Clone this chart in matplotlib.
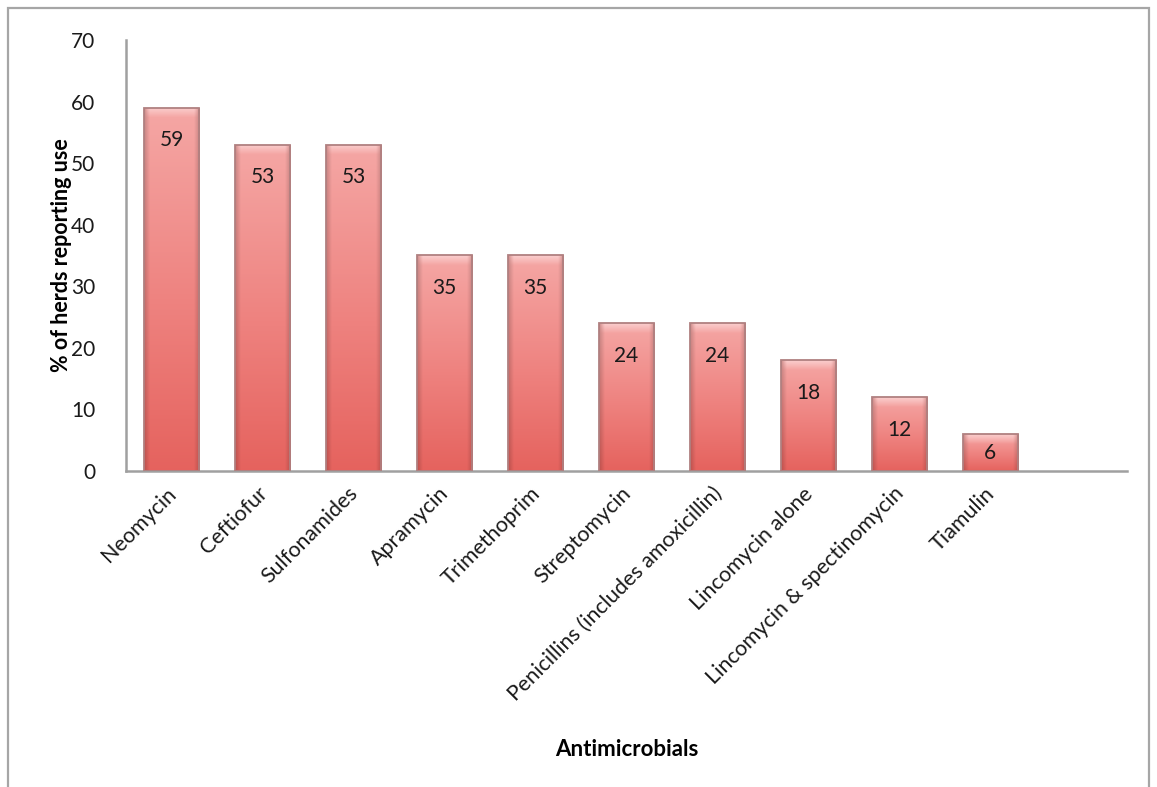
import numpy as np
import matplotlib.pyplot as plt
import matplotlib.transforms as mtransforms
from matplotlib.patches import Rectangle
from matplotlib.colors import LinearSegmentedColormap

plt.rcParams['font.family'] = ['Lato', 'DejaVu Sans']

drugs = ["Neomycin", "Ceftiofur", "Sulfonamides", "Apramycin", "Trimethoprim",
         "Streptomycin", "Penicillins (includes amoxicillin)", "Lincomycin alone",
         "Lincomycin & spectinomycin", "Tiamulin"]
pct_herds = [59, 53, 53, 35, 35, 24, 24, 18, 12, 6]
y_ticks = [0, 10, 20, 30, 40, 50, 60, 70]

fig = plt.figure(figsize=(11.57, 7.87), dpi=100)
ax = fig.add_axes([0.1089, 0.4015, 0.8651, 0.5477])

# outer chart frame
fig.patches.append(Rectangle((8 / 1157, -0.05), 1141 / 1157, 1.05 - 8 / 787,
                             transform=fig.transFigure, fill=False,
                             edgecolor='#a6a6a6', lw=1.6))

x = np.arange(len(drugs))
width = 0.61
bars = ax.bar(x, pct_herds, width, color='none', edgecolor='#b08080', lw=1.3, zorder=3)

# each bar: deeper red at the bottom, pale pink towards its top
cmap = LinearSegmentedColormap.from_list('bar', ['#e35b56', '#ee817e', '#f5a7a5'])
nx, ny = 60, 300
hx = np.linspace(0, 1, nx)
edge = np.clip(1 - np.minimum(hx, 1 - hx) / 0.1, 0, 1)  # 1 at the sides
for b, v in zip(bars, pct_herds):
    x0 = b.get_x()
    rows = np.linspace(0, v, ny)
    rgb = cmap(0.1 + 0.9 * rows / v)[:, None, :3] * np.ones((1, nx, 1))
    # darker side shading
    rgb = rgb * (1 - 0.18 * edge[None, :, None])
    # soft light cap at the top of the bar
    cap = np.clip(1 - (v - rows) / 1.6, 0, 1)[:, None, None]
    capx = (1 - edge)[None, :, None]
    light = np.array([0.99, 0.86, 0.86])
    rgb = rgb * (1 - 0.75 * cap * capx) + light * 0.75 * cap * capx
    img = ax.imshow(rgb, extent=[x0, x0 + width, 0, v], origin='lower',
                    aspect='auto', zorder=2, interpolation='bilinear')
    img.set_clip_path(b)
    ly = max(v - 5.3, v / 2)
    ax.text(x0 + width / 2, ly, str(v), ha='center', va='center',
            fontsize=15, color='#1a1a1a', zorder=4)

ax.set_xlim(-0.5, len(drugs) + 0.5)
ax.set_ylim(0, 70)
ax.set_yticks(y_ticks)
ax.set_yticklabels([str(t) for t in y_ticks], fontsize=15)
ax.set_xticks(x)
ax.set_xticklabels(drugs, rotation=45, ha='right', rotation_mode='anchor', fontsize=15.5)
ax.tick_params(axis='both', length=0, colors='#1a1a1a')
ax.tick_params(axis='y', pad=22)
ax.tick_params(axis='x', pad=9)
shift = mtransforms.ScaledTranslation(-4 / 72, 0, fig.dpi_scale_trans)
for lbl in ax.get_xticklabels():
    lbl.set_transform(lbl.get_transform() + shift)

for s in ['top', 'right']:
    ax.spines[s].set_visible(False)
for s in ['left', 'bottom']:
    ax.spines[s].set_color('#a0a0a0')
    ax.spines[s].set_linewidth(1.8)

ax.set_ylabel('% of herds reporting use', fontsize=15.5, fontweight='bold')
ax.yaxis.set_label_coords(-0.054, 0.5)
fig.text(627 / 1157, 1 - 750 / 787, 'Antimicrobials', ha='center', va='center',
         fontsize=16, fontweight='bold')

fig.savefig('out.png', dpi=100)
